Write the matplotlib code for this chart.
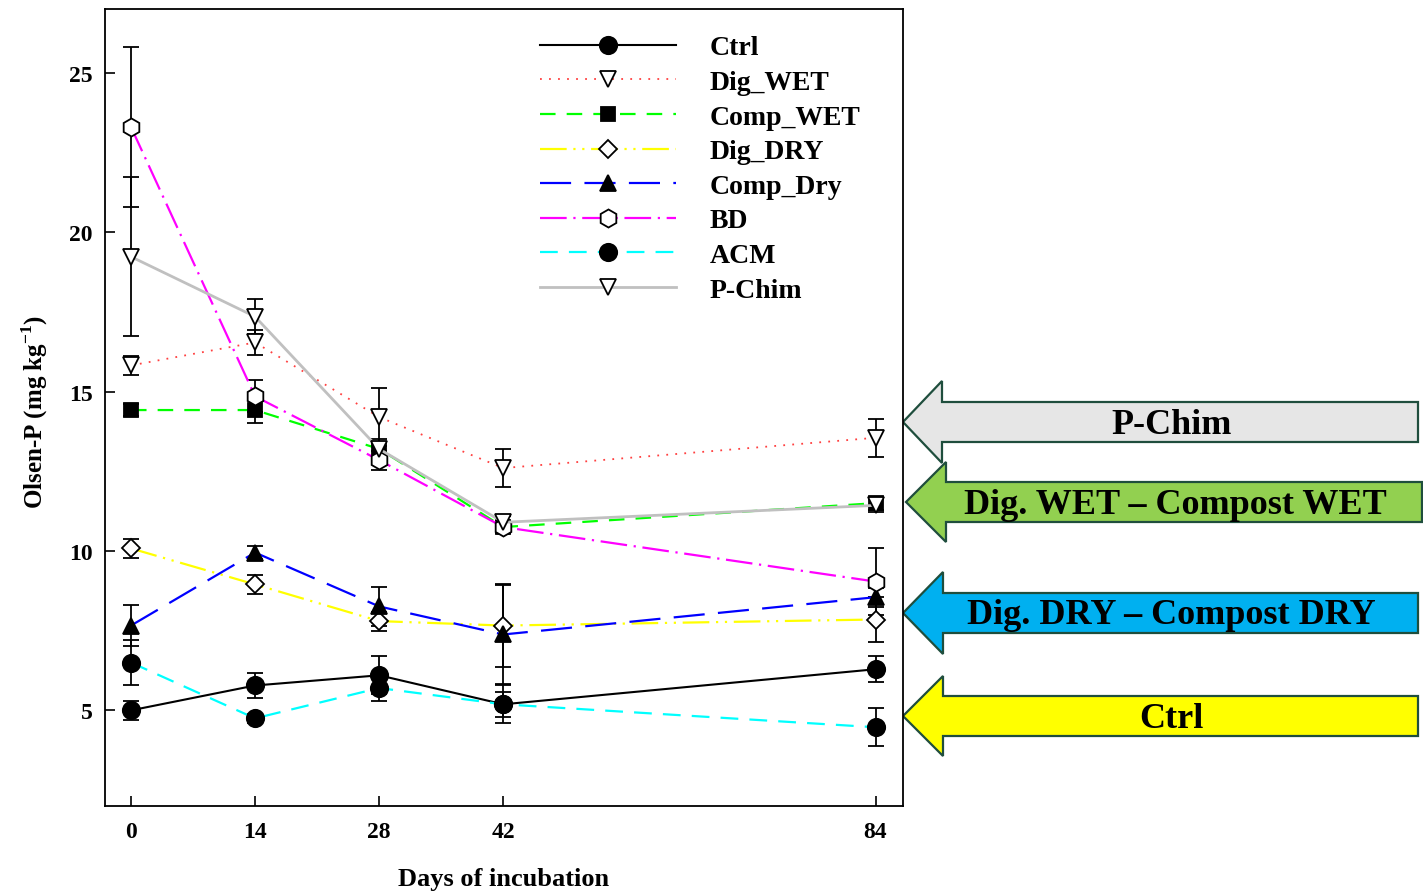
import matplotlib
matplotlib.use("Agg")
import matplotlib.pyplot as plt
from matplotlib.patches import Polygon

plt.rcParams['font.family'] = ['Liberation Serif', 'DejaVu Serif']
plt.rcParams['font.weight'] = 'bold'
plt.rcParams['mathtext.fontset'] = 'custom'
plt.rcParams['mathtext.rm'] = 'Liberation Serif:bold'
plt.rcParams['mathtext.bf'] = 'Liberation Serif:bold'

days = [0, 14, 28, 42, 84]
tick_labels = ["0", "14", "28", "42", "84"]

ctrl = [5.0, 5.78, 6.1, 5.19, 6.29]
ctrl_err = [0.3, 0.4, 0.6, 0.4, 0.4]
dig_wet = [15.82, 16.54, 14.2, 12.6, 13.55]
dig_wet_err = [0.3, 0.4, 0.9, 0.6, 0.6]
comp_wet = [14.42, 14.42, 13.2, 10.75, 11.5]
comp_wet_err = [0.2, 0.4, 0.2, 0.2, 0.2]
dig_dry = [10.08, 8.95, 7.8, 7.66, 7.85]
dig_dry_err = [0.3, 0.3, 0.3, 1.3, 0.7]
comp_dry = [7.66, 9.95, 8.26, 7.38, 8.55]
comp_dry_err = [0.65, 0.2, 0.6, 1.55, 0.3]
bd = [23.3, 14.85, 12.85, 10.75, 9.04]
bd_err = [2.5, 0.5, 0.3, 0.2, 1.05]
acm = [6.5, 4.75, 5.7, 5.19, 4.47]
acm_err = [0.7, 0.15, 0.4, 0.6, 0.6]
pchim = [19.23, 17.35, 13.2, 10.9, 11.43]
pchim_err = [2.5, 0.55, 0.3, 0.2, 0.2]

series = [
    ("Ctrl", ctrl, ctrl_err, 'black', '-', 'o', 'black', 1.5),
    ("Dig_WET", dig_wet, dig_wet_err, '#ff4040', (0, (1, 4)), 'v', 'white', 1.3),
    ("Comp_WET", comp_wet, comp_wet_err, '#00ff00', (0, (7, 5)), 's', 'black', 1.6),
    ("Dig_DRY", dig_dry, dig_dry_err, '#ffff00', (0, (12, 3, 1, 3, 1, 3)), 'D', 'white', 1.6),
    ("Comp_Dry", comp_dry, comp_dry_err, '#0000ff', (0, (14, 6)), '^', 'black', 1.6),
    ("BD", bd, bd_err, '#ff00ff', (0, (12, 3, 1, 3)), 'h', 'white', 1.6),
    ("ACM", acm, acm_err, '#00ffff', (0, (8, 5)), 'o', 'black', 1.6),
    ("P-Chim", pchim, pchim_err, '#c0c0c0', '-', 'v', 'white', 2.0),
]
msizes = {'o': 12.5, 'D': 9.5, 's': 10, 'v': 11, '^': 11, 'h': 13}

fig = plt.figure(figsize=(14.23, 8.95), dpi=100)
ax = fig.add_axes([105/1423, 1-807/895, (903-105)/1423, (807-10)/895])

handles = []
for name, y, e, col, ls, mk, fc, lw in series:
    ax.errorbar(days, y, yerr=e, fmt='none', ecolor='black', elinewidth=1.3,
                capsize=6, capthick=1.3, zorder=3)
    h, = ax.plot(days, y, color=col, linestyle=ls, linewidth=lw, marker=mk,
                 markersize=msizes[mk], markerfacecolor=fc, markeredgecolor='black',
                 markeredgewidth=1.3, label=name, zorder=4)
    handles.append(h)

ax.set_xlim(-2.93, 87.1)
ax.set_ylim(2.0, 27.0)
ax.set_xticks(days)
ax.set_xticklabels(tick_labels)
ax.set_yticks([5, 10, 15, 20, 25])
ax.tick_params(direction='in', length=7, width=1.2, labelsize=17, top=False, right=False)
ax.tick_params(axis='x', pad=11)
ax.tick_params(axis='y', pad=9)
for s in ax.spines.values():
    s.set_linewidth(1.3)

ax.set_xlabel("Days of incubation", fontsize=19, fontweight='bold')
ax.xaxis.set_label_coords(0.5, (807-880)/797)
ax.xaxis.label.set_verticalalignment('center')
ax.set_ylabel("Olsen-P (mg kg$^{\\mathbf{-1}}$)", fontsize=18, fontweight='bold')
ax.yaxis.set_label_coords((35-105)/798, (807-412)/797)
ax.yaxis.label.set_verticalalignment('center')
ax.yaxis.label.set_horizontalalignment('center')

leg = fig.legend(handles=handles, loc='upper left', bbox_to_anchor=(540/1423, 1-36/895),
                 frameon=False, handlelength=4.9, handletextpad=1.2,
                 labelspacing=0.33, borderpad=0, borderaxespad=0,
                 prop={'weight': 'bold', 'size': 20})

# Arrows overlay
ov = fig.add_axes([0, 0, 1, 1], zorder=-1)
ov.set_xlim(0, 1423)
ov.set_ylim(895, 0)
ov.axis('off')
ov.patch.set_alpha(0)

arrows = [
    ("P-Chim", '#e6e6e6', 903, 423, 942, 382, 403, 1418),
    ("Dig. WET \u2013 Compost WET", '#92d050', 906, 503, 946, 463, 483, 1422),
    ("Dig. DRY \u2013 Compost DRY", '#00b0f0', 903, 614, 943, 573, 594, 1418),
    ("Ctrl", '#ffff00', 903, 717, 943, 677, 697, 1418),
]
for txt, fc, tipx, cy, hx, htop, btop, rx in arrows:
    hb = 2 * cy - htop
    bb = 2 * cy - btop
    pts = [(tipx, cy), (hx, htop), (hx, btop), (rx, btop), (rx, bb), (hx, bb), (hx, hb)]
    ov.add_patch(Polygon(pts, closed=True, facecolor=fc, edgecolor='#1f4e3d', linewidth=1.6))
    ov.text((tipx + rx) / 2 + 11, cy + 2, txt, ha='center', va='center', fontsize=26,
            fontweight='bold', color='black')

fig.savefig("out.png", dpi=100)
